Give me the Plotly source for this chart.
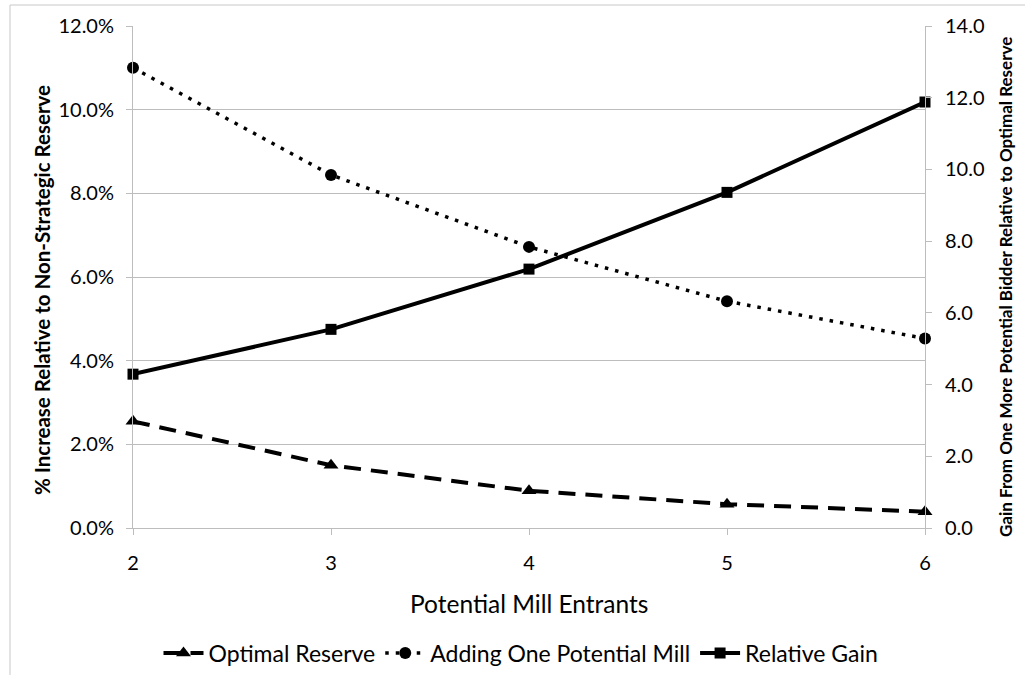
import plotly.graph_objects as go

entrants = [2, 3, 4, 5, 6]
optimal_reserve = [0.0255, 0.0150, 0.0089, 0.0057, 0.0039]
adding_one_mill = [0.1100, 0.0844, 0.0672, 0.0542, 0.0453]
relative_gain = [4.29, 5.54, 7.22, 9.36, 11.88]

left_ticks = [0, 0.02, 0.04, 0.06, 0.08, 0.10, 0.12]
right_ticks = [0, 2, 4, 6, 8, 10, 12, 14]

FONT = "Lato"
GRID = "#BDBDBD"

fig = go.Figure()
fig.add_trace(go.Scatter(
    x=entrants, y=optimal_reserve, name="Optimal Reserve", mode="lines+markers",
    line=dict(color="black", width=4, dash="17px,10px"),
    marker=dict(symbol="triangle-up", size=13, color="black"),
    cliponaxis=False, yaxis="y"))
fig.add_trace(go.Scatter(
    x=entrants, y=adding_one_mill, name="Adding One Potential Mill", mode="lines+markers",
    line=dict(color="black", width=3.5, dash="3.5px,7px"),
    marker=dict(symbol="circle", size=12, color="black"),
    cliponaxis=False, yaxis="y"))
fig.add_trace(go.Scatter(
    x=entrants, y=relative_gain, name="Relative Gain", mode="lines+markers",
    line=dict(color="black", width=4),
    marker=dict(symbol="square", size=11, color="black"),
    cliponaxis=False, yaxis="y2"))

L, R, T, B = 133, 925, 26, 528
W, H = 1025, 675
pw, ph = R - L, B - T

def px(xp):
    return (xp - L) / pw

def py(yp):
    return (B - yp) / ph

border = dict(color="#C8C8C8", width=1)

fig.update_layout(
    width=W, height=H,
    margin=dict(l=L, r=W - R, t=T, b=H - B, pad=0, autoexpand=False),
    paper_bgcolor="white", plot_bgcolor="white",
    font=dict(family=FONT, color="black", size=20),
    showlegend=True,
    legend=dict(orientation="h", x=px(521), y=py(653), xanchor="center", yanchor="middle",
                font=dict(size=23, family=FONT), itemwidth=40, tracegroupgap=0,
                bgcolor="rgba(0,0,0,0)"),
    xaxis=dict(range=[2, 6], tickvals=entrants, ticktext=[str(v) for v in entrants],
               showgrid=False, zeroline=False, showline=True, linecolor=GRID, linewidth=1,
               ticks="outside", ticklen=6, tickcolor=GRID, ticklabelstandoff=11,
               tickfont=dict(size=20, family=FONT)),
    yaxis=dict(range=[0, 0.12], tickvals=left_ticks, tickformat=".1%",
               showgrid=True, gridcolor=GRID, gridwidth=1, zeroline=False,
               showline=True, linecolor=GRID, linewidth=1,
               ticks="outside", ticklen=6, tickcolor=GRID, ticklabelstandoff=8,
               tickfont=dict(size=20, family=FONT)),
    yaxis2=dict(range=[0, 14], tickvals=right_ticks, tickformat=".1f", overlaying="y",
                side="right", showgrid=False, zeroline=False,
                showline=True, linecolor=GRID, linewidth=1,
                ticks="outside", ticklen=6, tickcolor=GRID, ticklabelstandoff=9,
                tickfont=dict(size=20, family=FONT)),
    shapes=[
        dict(type="line", xref="paper", yref="paper", x0=px(10), x1=px(1030),
             y0=py(5), y1=py(5), line=border),
        dict(type="line", xref="paper", yref="paper", x0=px(10), x1=px(10),
             y0=py(5), y1=py(700), line=border),
    ],
    annotations=[
        dict(text="<b>% Increase Relative to Non-Strategic Reserve</b>", xref="paper", yref="paper",
             x=px(42), y=py(290), xanchor="center", yanchor="middle", textangle=-90,
             showarrow=False, font=dict(size=20.5, family=FONT)),
        dict(text="<b>Gain From One More Potential Bidder Relative to Optimal Reserve</b>",
             xref="paper", yref="paper", x=px(1005), y=py(287), xanchor="center", yanchor="middle",
             textangle=-90, showarrow=False, font=dict(size=17, family=FONT)),
        dict(text="Potential Mill Entrants", xref="paper", yref="paper",
             x=px(529), y=py(603), xanchor="center", yanchor="middle",
             showarrow=False, font=dict(size=24.5, family=FONT)),
    ],
)

fig.write_html("out.html", config={"displayModeBar": False},
               post_script="document.body.style.margin='0';")
